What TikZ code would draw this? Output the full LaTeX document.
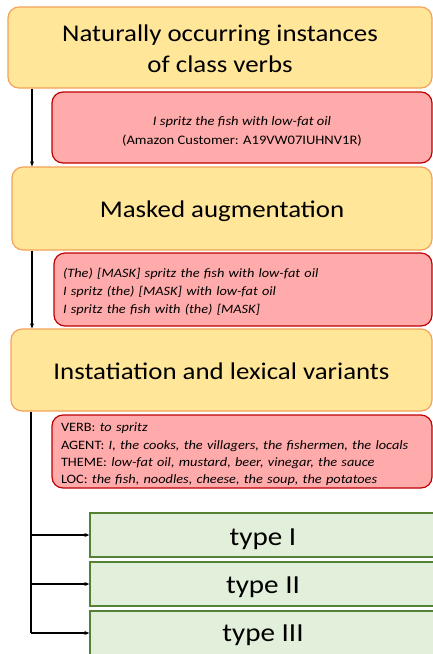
\documentclass[tikz,border=0pt]{standalone}
\usepackage{fontspec}
\setmainfont[FakeStretch=1.12]{Carlito}
\usetikzlibrary{arrows.meta}
\definecolor{ylwfill}{HTML}{FFE699}
\definecolor{ylwdraw}{HTML}{F4A259}
\definecolor{redfill}{HTML}{FFABAB}
\definecolor{reddraw}{HTML}{C00000}
\definecolor{grnfill}{HTML}{E2EFDA}
\definecolor{grndraw}{HTML}{548235}
\tikzset{
  stagebox/.style={draw=ylwdraw, fill=ylwfill, line width=1.2pt, rounded corners=11pt, inner sep=0pt},
  stagetext/.style={align=center, inner sep=0pt, font=\fontsize{24}{31}\selectfont},
  examplebox/.style={draw=reddraw, fill=redfill, line width=1.2pt, rounded corners=11pt, inner sep=0pt},
  exampletext/.style={inner sep=0pt, font=\fontsize{12.8}{18}\selectfont},
  typebox/.style={draw=grndraw, fill=grnfill, line width=1.3pt, inner sep=0pt, minimum width=346pt, minimum height=44pt},
  typetext/.style={inner sep=0pt, anchor=base, font=\fontsize{26}{28}\selectfont},
  arr/.style={line width=1.1pt, -{Stealth[length=5pt,width=4pt]}},
  conn/.style={line width=1.1pt}
}
\begin{document}
\begin{tikzpicture}[x=1pt,y=-1pt]
\useasboundingbox (0,0) rectangle (433,654);
\clip (0,0) rectangle (433,654);
% stage 1
\node[stagebox, minimum width=424pt, minimum height=81pt] (s1) at (220,47.5) {};
\node[stagetext] (s1t) at ([yshift=-1pt]s1.center) {Naturally occurring instances\\of class verbs};
\node[examplebox, minimum width=380pt, minimum height=71pt] (e1) at (242,127.5) {};
\node[exampletext, align=center, font=\fontsize{13}{19}\selectfont] (e1t) at ([yshift=-4pt]e1.center) {\textit{I spritz the fish with low-fat oil}\\(Amazon Customer: A19VW07IUHNV1R)};
% stage 2
\node[stagebox, minimum width=420pt, minimum height=83pt] (s2) at (222,208.5) {};
\node[stagetext, anchor=base] (s2t) at ([yshift=-8.5pt]s2.center) {Masked augmentation};
\node[examplebox, minimum width=378pt, minimum height=73pt] (e2) at (243,289.5) {};
\node[exampletext, text width=360pt, align=left, font=\fontsize{12.8}{18}\selectfont\itshape] (e2t) at ([yshift=-2pt]e2.center) {(The) [MASK] spritz the fish with low-fat oil\\I spritz (the) [MASK] with low-fat oil\\I spritz the fish with (the) [MASK]};
% stage 3
\node[stagebox, minimum width=421pt, minimum height=82pt] (s3) at (221.5,370) {};
\node[stagetext, anchor=base] (s3t) at ([yshift=-9.3pt]s3.center) {Instatiation and lexical variants};
\node[examplebox, minimum width=380pt, minimum height=73pt] (e3) at (242,451.5) {};
\node[exampletext, text width=362pt, align=left, font=\fontsize{12.8}{17.4}\selectfont] (e3t) at ([yshift=-3pt]e3.center) {VERB: \textit{to spritz}\\AGENT: \textit{I, the cooks, the villagers, the fishermen, the locals}\\THEME: \textit{low-fat oil, mustard, beer, vinegar, the sauce}\\LOC: \textit{the fish, noodles, cheese, the soup, the potatoes}};
% types
\node[typebox] (t1) at (263,535) {};
\node[typetext] (t1t) at ([yshift=-10.5pt]t1.center) {type I};
\node[typebox] (t2) at (263,584) {};
\node[typetext] (t2t) at ([yshift=-9.3pt]t2.center) {type II};
\node[typebox] (t3) at (263,633) {};
\node[typetext] (t3t) at ([yshift=-8.7pt]t3.center) {type III};
% connectors
\coordinate (xa) at (32,0);
\coordinate (xb) at (31,0);
\draw[arr] (xa |- s1.south) -- (xa |- s2.north);
\draw[arr] (xa |- s2.south) -- (xa |- s3.north);
\draw[conn] (xb |- s3.south) -- (xb |- t3.west);
\draw[arr] (xb |- t1.west) -- (t1.west);
\draw[arr] (xb |- t2.west) -- (t2.west);
\draw[arr] (xb |- t3.west) -- (t3.west);
\end{tikzpicture}
\end{document}
